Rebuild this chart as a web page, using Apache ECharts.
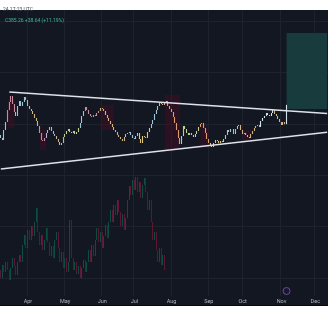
<!DOCTYPE html>
<html><head><meta charset="utf-8">
<script src="https://cdn.jsdelivr.net/npm/echarts@6/dist/echarts.min.js"></script>
<style>
html,body{margin:0;padding:0;background:#fff;}
#wrap{position:relative;width:328px;height:320px;overflow:hidden;}
#pane{position:absolute;left:0;top:10px;width:328px;height:295px;background:#131722;border-bottom:1px solid #07090d;}
#chart{position:absolute;left:0;top:0;width:328px;height:320px;}
</style></head><body>
<div id="wrap"><div id="pane"></div><div id="chart"></div></div>
<script>
// ---- data ----
const startDate = '2024-03-07';
const slotCount = 194;
const holidays = ['2024-03-29','2024-05-27','2024-06-19','2024-07-04','2024-09-02','2024-11-28','2024-12-25'];
const monthNames = ['Jan','Feb','Mar','Apr','May','Jun','Jul','Aug','Sep','Oct','Nov','Dec'];
const headerTime = '24 17:23 UTC';
const headerQuote = 'C385.26 +38.64 (+11.19%)';

// daily closes (price units), Mar 7 -> Nov 6
const priceOpen0 = 325;
const priceClose = [319,315,335,351,375,391,403,387,371,363,
383,393,383,391,401,395,383,377,373,367,
359,353,343,329,315,313,319,329,335,341,
333,327,323,317,311,305,309,321,327,333,
337,331,329,333,327,331,339,349,363,373,
381,375,367,363,361,365,363,369,373,379,
377,373,365,359,353,347,341,335,331,325,
321,317,313,321,327,329,331,325,319,317,
323,329,317,309,323,321,319,331,339,347,
355,367,375,383,389,387,385,391,393,383,
377,371,361,349,335,319,307,323,343,337,
329,325,329,325,321,327,333,341,347,349,
339,329,317,309,303,301,309,315,313,309,
313,311,317,325,335,331,337,337,327,337,
343,345,335,327,329,325,321,319,327,333,
339,343,345,341,353,359,363,369,365,363,
369,375,367,363,357,351,345,351,346.62,385.26];

// candle tone segments: [fromIdx, toIdx, tone]
const toneSegments = [[0,3,'blue'],[4,8,'pink'],[9,14,'blue'],[15,22,'tan'],[23,26,'pink'],[27,32,'lavender'],
  [33,37,'tan'],[38,46,'green'],[47,49,'blue'],[50,58,'pink'],[59,73,'tan'],[74,81,'blue'],[82,88,'yellow'],
  [89,95,'blue'],[96,98,'tan'],[99,106,'orange'],[107,117,'green'],[118,123,'orange'],[124,132,'yellow'],
  [133,141,'blue'],[142,153,'tan'],[154,161,'white'],[162,168,'tan'],[169,169,'white']];
const toneColors = {blue:'#9cc4d8', pink:'#c98a9c', tan:'#d2b27e', lavender:'#aeb3d6', green:'#bccf92',
  yellow:'#dcc676', orange:'#e09a6c', white:'#d3e2ea'};

// lower pane candles (its own units)
const lowerOpen0 = 26;
const lowerClose = [18,31,24,34,26,16,28,38,30,21,
34,41,34,51,61,48,66,56,70,60,
74,88,64,51,61,46,56,68,54,40,
50,38,56,64,48,34,44,28,38,24,
34,76,38,26,34,22,30,18,28,36,
24,34,46,34,51,40,56,68,54,64,
48,60,71,58,74,86,74,91,81,96,
84,70,82,66,78,96,110,101,116,106,
119,104,114,98,111,118,104,86,96,74,
56,64,46,34,48,31,41,26];

// trend lines: [slot index, price]
const upperTrend = [[5, 411], [193, 368]];
const lowerTrend = [[0, 257], [193, 330.6]];
// long-position target box: [fromIdx, toIdx, lowPrice, highPrice]
const targetBox = [169, 193, 377, 529];
// dark red shaded zones: [fromIdx, toIdx, lowPrice, highPrice]
const shadeZones = [[4,8,339,395],[23,27,295,335],[59,67,335,385],[97,106,295,405],[118,123,299,345],[143,148,311,335]];
const eventIdx = 169, eventLevel = 5;

// ---- build categories (trading days) ----
const dates = [];
(function(){
  let d = new Date(startDate + 'T00:00:00Z');
  while (dates.length < slotCount) {
    const s = d.toISOString().slice(0,10);
    const wd = d.getUTCDay();
    if (wd !== 0 && wd !== 6 && holidays.indexOf(s) < 0) dates.push(s);
    d = new Date(d.getTime() + 86400000);
  }
})();
function isMonthStart(i){ return i > 0 && dates[i].slice(5,7) !== dates[i-1].slice(5,7); }
function toneOf(i){ for (const s of toneSegments) if (i >= s[0] && i <= s[1]) return toneColors[s[2]]; return toneColors.blue; }

function buildCandles(open0, closes){
  const out = []; let o = open0;
  for (const c of closes){ out.push([o, c, Math.min(o,c), Math.max(o,c)]); o = c; }
  return out;
}
const priceCandles = buildCandles(priceOpen0, priceClose).map((v,i)=>{
  const col = toneOf(i);
  return {value:v, itemStyle:{color:col, color0:col, borderColor:col, borderColor0:col}};
});
const lowerCandles = buildCandles(lowerOpen0, lowerClose);

const chart = echarts.init(document.getElementById('chart'), null, {renderer:'canvas'});
const gridColor = '#1e222d';
const option = {
  animation: false,
  backgroundColor: 'transparent',
  title: [
    {text: headerTime, left: -2, top: 2, textStyle:{fontSize:5, color:'#4a4e5a', fontWeight:'normal', fontFamily:'Roboto'}},
    {text: headerQuote, left: 0, top: 13, textStyle:{fontSize:5, color:'#3fb59a', fontWeight:'normal', fontFamily:'Roboto'}}
  ],
  grid: [
    {left:0, right:0, top:10, height:286},
    {left:0, right:0, top:21, height:257},
    {left:0, right:0, top:10, height:165},
    {left:0, right:0, top:175, height:121}
  ],
  xAxis: [
    {type:'category', gridIndex:0, data:dates, boundaryGap:true,
     axisLine:{show:false}, axisTick:{show:false},
     axisLabel:{interval:(i)=>isMonthStart(i), formatter:(v)=>monthNames[+v.slice(5,7)-1], fontSize:5.5, color:'#b2b5be', margin:3, fontFamily:'Roboto'},
     splitLine:{show:true, interval:(i)=>isMonthStart(i), lineStyle:{color:gridColor, width:1}}},
    {type:'category', gridIndex:1, data:dates, show:false},
    {type:'category', gridIndex:2, data:dates, show:false},
    {type:'category', gridIndex:3, data:dates, show:false}
  ],
  yAxis: [
    {type:'value', gridIndex:0, min:0, max:1, show:false},
    {type:'value', gridIndex:1, min:0, max:5, interval:1, axisLine:{show:false}, axisTick:{show:false}, axisLabel:{show:false},
     splitLine:{show:true, lineStyle:{color:gridColor, width:1}}},
    {type:'value', gridIndex:2, min:245, max:575, show:false, splitLine:{show:false}},
    {type:'value', gridIndex:3, min:0, max:121, show:false, splitLine:{show:false}}
  ],
  series: [
    {type:'candlestick', name:'price', xAxisIndex:2, yAxisIndex:2, data:priceCandles, barWidth:1.3,
     itemStyle:{borderWidth:1.1},
     markArea:{silent:true, data:[
       [{xAxis:dates[targetBox[0]], yAxis:targetBox[2], itemStyle:{color:'#183c3d'}}, {xAxis:dates[targetBox[1]], yAxis:targetBox[3]}]
     ].concat(shadeZones.map(z=>[{xAxis:dates[z[0]], yAxis:z[2], itemStyle:{color:'rgba(70,14,38,0.45)'}}, {xAxis:dates[z[1]], yAxis:z[3]}]))}
    },
    {type:'line', xAxisIndex:2, yAxisIndex:2, data:upperTrend.map(p=>[dates[p[0]], p[1]]), symbol:'none',
     lineStyle:{color:'#dfe2ea', width:1.4}, z:5},
    {type:'line', xAxisIndex:2, yAxisIndex:2, data:lowerTrend.map(p=>[dates[p[0]], p[1]]), symbol:'none',
     lineStyle:{color:'#dfe2ea', width:1.4}, z:5},
    {type:'candlestick', name:'lower', xAxisIndex:3, yAxisIndex:3, data:lowerCandles, barWidth:1.2,
     itemStyle:{color:'#0b4d40', color0:'#5e1733', borderColor:'#0b4d40', borderColor0:'#5e1733', borderWidth:1}},
    {type:'scatter', xAxisIndex:3, yAxisIndex:3, data:[[dates[eventIdx], eventLevel]], symbol:'circle', symbolSize:7,
     itemStyle:{color:'#1a1830', borderColor:'#7e57c2', borderWidth:1}}
  ]
};
chart.setOption(option);
</script></body></html>
